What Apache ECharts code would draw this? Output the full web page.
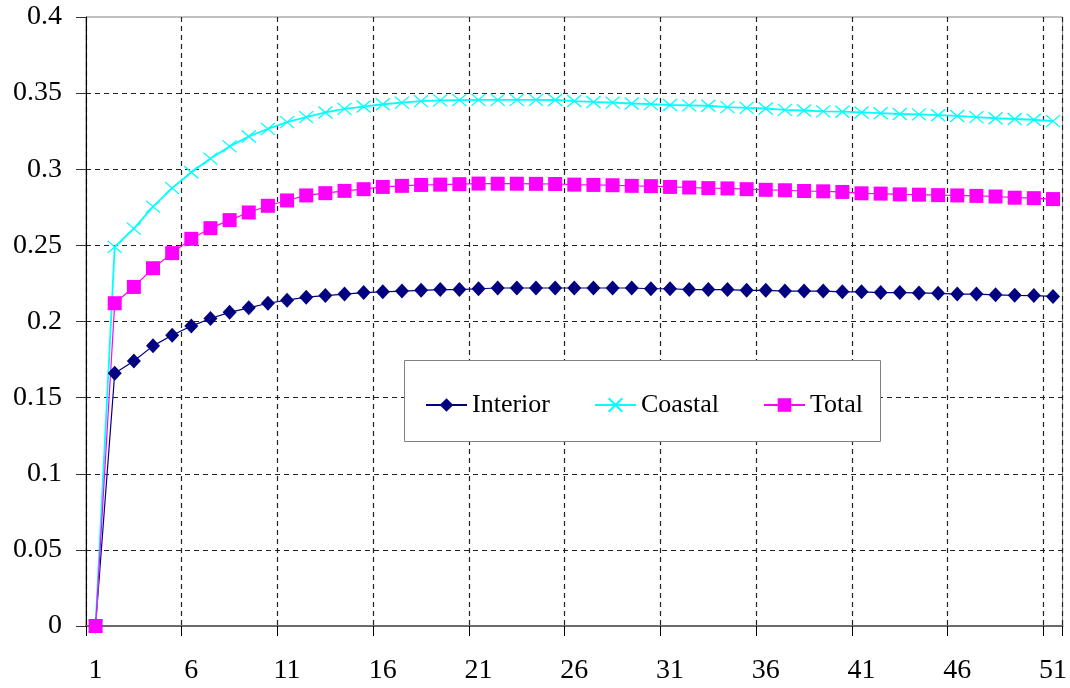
<!DOCTYPE html>
<html>
<head>
<meta charset="utf-8">
<script src="https://cdn.jsdelivr.net/npm/echarts@6/dist/echarts.min.js"></script>
<style>
  html, body { margin: 0; padding: 0; background: #ffffff; }
  #chart { width: 1070px; height: 688px; }
</style>
</head>
<body>
<div id="chart"></div>
<script>
const categories = [];
for (let i = 1; i <= 51; i++) categories.push(String(i));

const seriesNames = ['Interior', 'Coastal', 'Total'];

const interior = [
  0, 0.166, 0.174, 0.184, 0.191, 0.197, 0.202, 0.206, 0.209, 0.212,
  0.214, 0.216, 0.217, 0.218, 0.219, 0.2195, 0.220, 0.2205, 0.221, 0.221,
  0.2215, 0.222, 0.222, 0.222, 0.222, 0.222, 0.222, 0.222, 0.222, 0.2215,
  0.2215, 0.221, 0.221, 0.221, 0.2205, 0.2205, 0.220, 0.220, 0.220, 0.2195,
  0.2195, 0.219, 0.219, 0.2188, 0.2185, 0.218, 0.218, 0.2175, 0.2172, 0.217,
  0.2165
];

const coastal = [
  0, 0.249, 0.261, 0.2755, 0.2876, 0.298, 0.307, 0.315, 0.3215, 0.3265,
  0.331, 0.3342, 0.3373, 0.3397, 0.3412, 0.3427, 0.3438, 0.3447, 0.3452, 0.3454,
  0.3456, 0.3456, 0.3456, 0.3456, 0.3455, 0.3448, 0.3442, 0.3438, 0.3432, 0.3428,
  0.3422, 0.342, 0.3417, 0.3408, 0.3403, 0.3399, 0.339, 0.3386, 0.338, 0.3378,
  0.3373, 0.3368, 0.3363, 0.336, 0.3355, 0.335, 0.3342, 0.3335, 0.333, 0.3325,
  0.3316
];

const total = [
  0, 0.212, 0.2227, 0.235, 0.2449, 0.2543, 0.2613, 0.2666, 0.2716, 0.276,
  0.2795, 0.2828, 0.2843, 0.2858, 0.2869, 0.2884, 0.2891, 0.2897, 0.2899, 0.2902,
  0.2906, 0.2905, 0.2905, 0.2904, 0.2903, 0.2899, 0.2897, 0.2895, 0.2891, 0.2889,
  0.2884, 0.288, 0.2876, 0.2874, 0.2869, 0.2865, 0.2862, 0.2857, 0.2855, 0.2851,
  0.2842, 0.284, 0.2835, 0.2833, 0.283, 0.2828, 0.2825, 0.2821, 0.2813, 0.281,
  0.2804
];

const yMin = 0, yMax = 0.4, yStep = 0.05;

const FONT = '"Liberation Serif", "DejaVu Serif", serif';
const X_MARK = 'path://M0,0L10,10M10,0L0,10';

const chart = echarts.init(document.getElementById('chart'), null, { renderer: 'canvas' });

const legendBase = {
  orient: 'horizontal',
  top: 392,
  itemWidth: 41,
  itemHeight: 17,
  padding: 0,
  textStyle: { fontFamily: FONT, fontSize: 26, color: '#000000' },
  selectedMode: false
};

const gridLine = { color: '#222222', type: [5, 4], width: 1.2 };

const option = {
  backgroundColor: '#ffffff',
  animation: false,
  grid: {
    left: 86, right: 7, top: 17, bottom: 62,
    show: true, borderColor: '#808080', borderWidth: 1, backgroundColor: 'transparent'
  },
  graphic: [{
    type: 'rect',
    left: 404, top: 360,
    shape: { width: 476, height: 81 },
    style: { fill: '#ffffff', stroke: '#808080', lineWidth: 1 },
    z: 100
  }],
  legend: [
    Object.assign({}, legendBase, { left: 425, data: [seriesNames[0]], z: 110 }),
    Object.assign({}, legendBase, { left: 594, data: [seriesNames[1]], z: 110 }),
    Object.assign({}, legendBase, { left: 763, data: [seriesNames[2]], z: 110 })
  ],
  xAxis: {
    type: 'category',
    data: categories,
    boundaryGap: true,
    axisLine: { show: true, lineStyle: { color: '#6a6a6a', width: 2 } },
    axisTick: { show: true, interval: 4, length: 10, inside: false, lineStyle: { color: '#000000', width: 1 } },
    axisLabel: { interval: 4, margin: 31, fontFamily: FONT, fontSize: 28, color: '#000000' },
    splitLine: { show: true, interval: 4, lineStyle: gridLine }
  },
  yAxis: {
    type: 'value',
    min: yMin, max: yMax, interval: yStep,
    axisLine: { show: true, lineStyle: { color: '#000000', width: 1 } },
    axisTick: { show: true, length: 10, lineStyle: { color: '#333333', width: 1 } },
    axisLabel: { margin: 24, fontFamily: FONT, fontSize: 28, color: '#000000' },
    splitLine: { show: true, showMinLine: false, showMaxLine: false, lineStyle: gridLine }
  },
  series: [
    {
      name: seriesNames[0], type: 'line', data: interior,
      showAllSymbol: true,
      symbol: 'diamond', symbolSize: [14, 15],
      itemStyle: { color: '#000080' },
      lineStyle: { color: '#000080', width: 1.2 },
      emphasis: { disabled: true }
    },
    {
      name: seriesNames[1], type: 'line', data: coastal,
      showAllSymbol: true,
      symbol: X_MARK, symbolSize: [14, 12], symbolKeepAspect: false,
      itemStyle: { color: '#00ffff', borderColor: '#00ffff', borderWidth: 1.3 },
      lineStyle: { color: '#00ffff', width: 1.8 },
      emphasis: { disabled: true }
    },
    {
      name: seriesNames[2], type: 'line', data: total,
      showAllSymbol: true,
      symbol: 'rect', symbolSize: 14,
      itemStyle: { color: '#ff00ff' },
      lineStyle: { color: '#ff00ff', width: 1.2 },
      emphasis: { disabled: true }
    }
  ]
};

chart.setOption(option);
</script>
</body>
</html>
